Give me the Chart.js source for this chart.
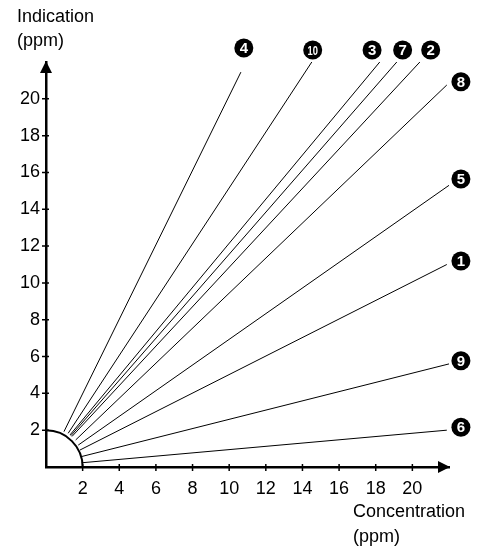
<!DOCTYPE html>
<html>
<head>
<meta charset="utf-8">
<script src="https://cdn.jsdelivr.net/npm/chart.js@4/dist/chart.umd.min.js"></script>
<style>
  html, body { margin: 0; padding: 0; background: #fff; }
  #wrap { width: 484px; height: 548px; }
</style>
</head>
<body>
<div id="wrap"><canvas id="chart" width="484" height="548"></canvas></div>
<script>
/* ── Data ───────────────────────────────────────────────────────────────── */
const SERIES  = ['1', '2', '3', '4', '5', '6', '7', '8', '9', '10'];
const START_X = [1.85, 1.42, 1.31, 0.98, 1.76, 1.95, 1.36, 1.62, 1.91, 1.21];
const START_Y = [0.92, 1.66, 1.74, 1.92, 1.19, 0.23, 1.70, 1.47, 0.56, 1.83];
const END_X   = [21.88, 20.41, 18.22, 10.64, 22.0, 21.88, 19.15, 21.88, 22.0, 14.51];
const END_Y   = [11.0, 22.0, 22.0, 21.45, 15.3, 2.0, 22.0, 20.75, 5.6, 22.0];
const LABEL_X = [22.65, 21.0, 17.8, 10.8, 22.65, 22.65, 19.47, 22.65, 22.65, 14.56];
const LABEL_Y = [11.19, 22.65, 22.65, 22.76, 15.64, 2.16, 22.65, 20.93, 5.77, 22.65];
const TICKS   = [2, 4, 6, 8, 10, 12, 14, 16, 18, 20];
const AXIS_MAX = 22;
const DEAD_ZONE = 2;   // radius of the quarter circle

const FONT = '"Liberation Sans", Arial, Helvetica, sans-serif';

/* ── Decorations: arc, arrows, crossing ticks, titles, badges ───────────── */
const decor = {
  id: 'decor',
  afterDatasetsDraw(chart) {
    const { ctx, scales: { x, y } } = chart;
    const x0 = x.getPixelForValue(0), y0 = y.getPixelForValue(0);
    const xEnd = x.getPixelForValue(AXIS_MAX), yEnd = y.getPixelForValue(AXIS_MAX);
    ctx.save();
    ctx.strokeStyle = '#000';
    ctx.fillStyle = '#000';

    // quarter circle
    const r = x.getPixelForValue(DEAD_ZONE) - x0;
    ctx.lineWidth = 2;
    ctx.beginPath();
    ctx.arc(x0, y0, r, -Math.PI / 2, 0);
    ctx.stroke();

    // crossing tick marks
    ctx.lineWidth = 1.5;
    TICKS.forEach(v => {
      const px = x.getPixelForValue(v), py = y.getPixelForValue(v);
      ctx.beginPath();
      ctx.moveTo(px, y0 - 3); ctx.lineTo(px, y0 + 4);
      ctx.moveTo(x0 - 4, py); ctx.lineTo(x0 + 3, py);
      ctx.stroke();
    });

    // arrow heads
    ctx.beginPath();
    ctx.moveTo(x0, yEnd - 1); ctx.lineTo(x0 - 6, yEnd + 11); ctx.lineTo(x0 + 6, yEnd + 11);
    ctx.closePath(); ctx.fill();
    ctx.beginPath();
    ctx.moveTo(xEnd + 1, y0); ctx.lineTo(xEnd - 11, y0 - 6); ctx.lineTo(xEnd - 11, y0 + 6);
    ctx.closePath(); ctx.fill();

    // axis titles
    ctx.font = `18px ${FONT}`;
    ctx.textAlign = 'left';
    ctx.textBaseline = 'alphabetic';
    ctx.fillText('Indication', 17, 22);
    ctx.fillText('(ppm)', 17, 46);
    ctx.fillText('Concentration', 353, 517);
    ctx.fillText('(ppm)', 353, 542);

    // numbered black badges at the line ends
    ctx.textAlign = 'center';
    ctx.textBaseline = 'middle';
    SERIES.forEach((name, i) => {
      const px = x.getPixelForValue(LABEL_X[i]), py = y.getPixelForValue(LABEL_Y[i]);
      ctx.fillStyle = '#000';
      ctx.beginPath();
      ctx.arc(px, py, 9.5, 0, Math.PI * 2);
      ctx.fill();
      ctx.fillStyle = '#fff';
      if (name.length > 1) {
        ctx.font = `bold 13px ${FONT}`;
        ctx.save();
        ctx.translate(px, py + 1);
        ctx.scale(0.72, 1);
        ctx.fillText(name, 0, 0);
        ctx.restore();
      } else {
        ctx.font = `bold 15px ${FONT}`;
        ctx.fillText(name, px, py + 1);
      }
    });
    ctx.restore();
  }
};

/* ── Datasets ───────────────────────────────────────────────────────────── */
const lineSets = SERIES.map((name, i) => ({
  label: name,
  data: [{ x: START_X[i], y: START_Y[i] }, { x: END_X[i], y: END_Y[i] }],
  showLine: true,
  borderColor: '#000',
  borderWidth: 1,
  pointRadius: 0,
  clip: false
}));

/* ── Chart ──────────────────────────────────────────────────────────────── */
const tickFont = { family: FONT, size: 18 };
const hideEnds = v => (v === 0 || v === AXIS_MAX ? '' : v);

new Chart(document.getElementById('chart'), {
  type: 'scatter',
  data: { datasets: lineSets },
  options: {
    responsive: false,
    animation: false,
    events: [],
    layout: { padding: { top: 62, right: 35, left: 0, bottom: 0 } },
    plugins: { legend: { display: false }, tooltip: { enabled: false } },
    scales: {
      x: {
        type: 'linear', min: 0, max: AXIS_MAX,
        grid: { display: false, drawTicks: false },
        border: { display: true, color: '#000', width: 2.5 },
        ticks: { stepSize: 2, color: '#000', font: tickFont, padding: 11, maxRotation: 0, callback: hideEnds },
        afterFit: s => { s.height = 81; }
      },
      y: {
        type: 'linear', min: 0, max: AXIS_MAX,
        grid: { display: false, drawTicks: false },
        border: { display: true, color: '#000', width: 2.5 },
        ticks: { stepSize: 2, color: '#000', font: tickFont, padding: 6, callback: hideEnds },
        afterFit: s => { s.width = 46; }
      }
    }
  },
  plugins: [decor]
});
</script>
</body>
</html>
